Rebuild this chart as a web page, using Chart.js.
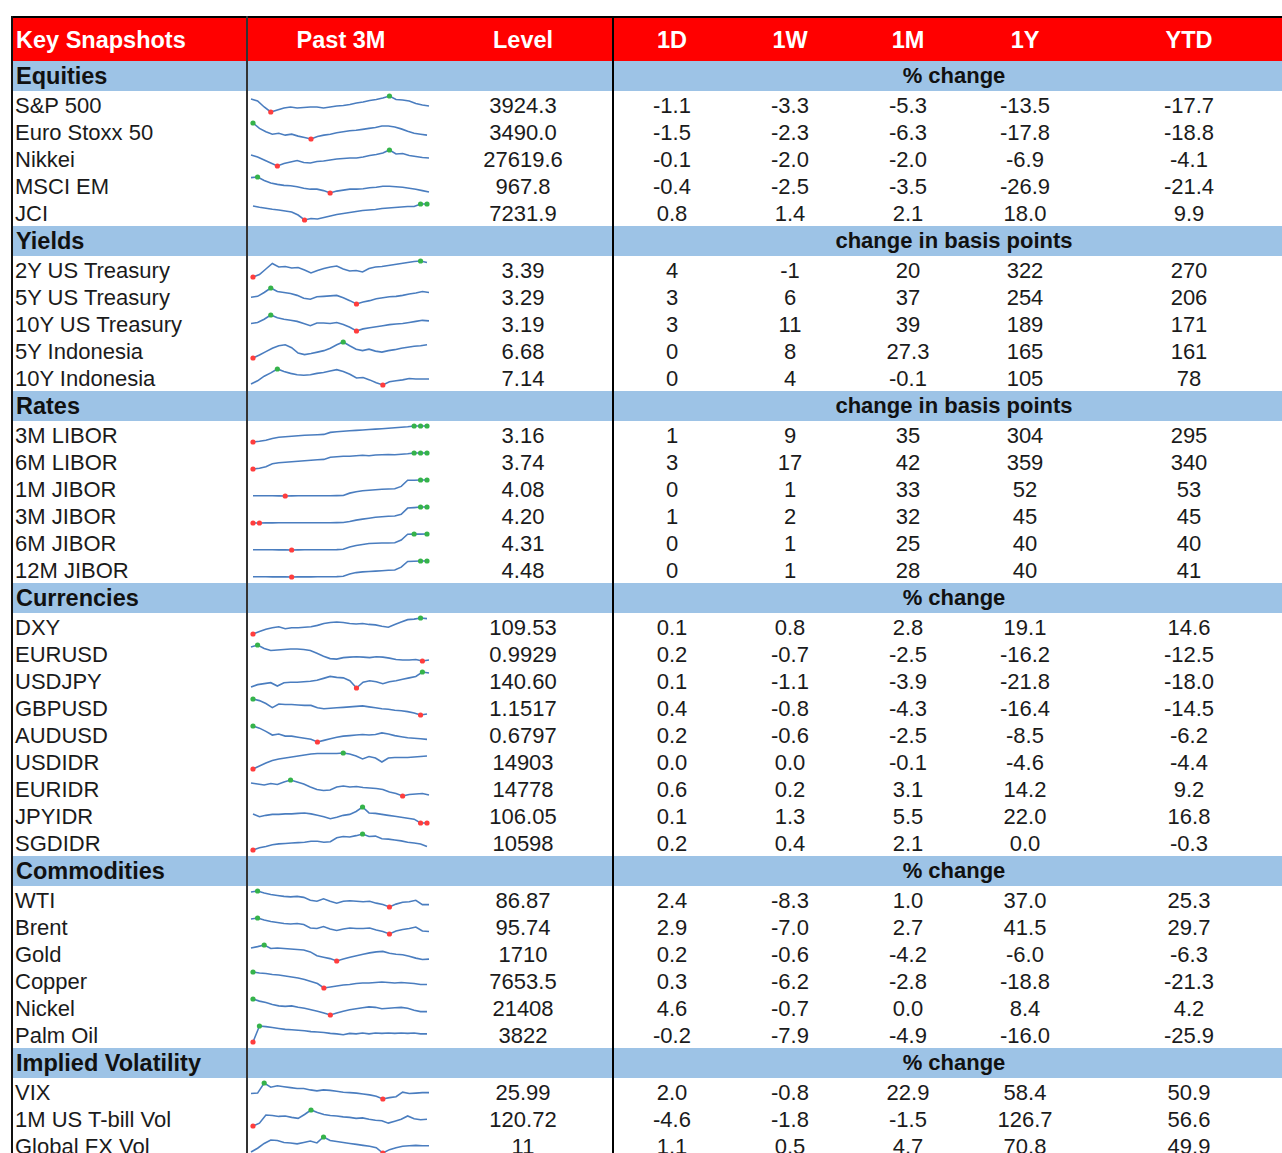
<!DOCTYPE html>
<html lang="en">
<head>
<meta charset="UTF-8">
<title>Key Snapshots</title>
<script src="https://cdn.jsdelivr.net/npm/chart.js"></script>
<style>
  html, body { margin: 0; padding: 0; background: #fff; }
  #sheet { position: relative; width: 1282px; height: 1153px; overflow: hidden;
           font-family: "Liberation Sans", Arial, sans-serif; color: #1b1b1b; }
  .band { position: absolute; left: 11px; width: 1271px; }
  .hdr { background: #ff0000; }
  .sec { background: #9dc3e6; }
  .txt { position: absolute; white-space: nowrap; font-size: 22px; }
  .c { transform: translateX(-50%); }
  .white { color: #fff; font-weight: bold; font-size: 23.5px; }
  .bold { font-weight: bold; color: #111; }
  .line { position: absolute; }
  canvas.spark { position: absolute; }
</style>
</head>
<body>
<div id="sheet"></div>

<script>
// ---- data ----
const headerCols = ['Key Snapshots', 'Past 3M', 'Level', '1D', '1W', '1M', '1Y', 'YTD'];

const sectionNames = ['Equities', 'Yields', 'Rates', 'Currencies', 'Commodities', 'Implied Volatility'];
const sectionUnits = ['% change', 'change in basis points', 'change in basis points', '% change', '% change', '% change'];
const sectionSizes = [5, 5, 6, 9, 6, 3];

const labels = ['S&P 500', 'Euro Stoxx 50', 'Nikkei', 'MSCI EM', 'JCI',
  '2Y US Treasury', '5Y US Treasury', '10Y US Treasury', '5Y Indonesia', '10Y Indonesia',
  '3M LIBOR', '6M LIBOR', '1M JIBOR', '3M JIBOR', '6M JIBOR', '12M JIBOR',
  'DXY', 'EURUSD', 'USDJPY', 'GBPUSD', 'AUDUSD', 'USDIDR', 'EURIDR', 'JPYIDR', 'SGDIDR',
  'WTI', 'Brent', 'Gold', 'Copper', 'Nickel', 'Palm Oil',
  'VIX', '1M US T-bill Vol', 'Global FX Vol'];

const levels = ['3924.3', '3490.0', '27619.6', '967.8', '7231.9',
  '3.39', '3.29', '3.19', '6.68', '7.14',
  '3.16', '3.74', '4.08', '4.20', '4.31', '4.48',
  '109.53', '0.9929', '140.60', '1.1517', '0.6797', '14903', '14778', '106.05', '10598',
  '86.87', '95.74', '1710', '7653.5', '21408', '3822',
  '25.99', '120.72', '11'];

const chg1D = ['-1.1', '-1.5', '-0.1', '-0.4', '0.8',
  '4', '3', '3', '0', '0',
  '1', '3', '0', '1', '0', '0',
  '0.1', '0.2', '0.1', '0.4', '0.2', '0.0', '0.6', '0.1', '0.2',
  '2.4', '2.9', '0.2', '0.3', '4.6', '-0.2',
  '2.0', '-4.6', '1.1'];

const chg1W = ['-3.3', '-2.3', '-2.0', '-2.5', '1.4',
  '-1', '6', '11', '8', '4',
  '9', '17', '1', '2', '1', '1',
  '0.8', '-0.7', '-1.1', '-0.8', '-0.6', '0.0', '0.2', '1.3', '0.4',
  '-8.3', '-7.0', '-0.6', '-6.2', '-0.7', '-7.9',
  '-0.8', '-1.8', '0.5'];

const chg1M = ['-5.3', '-6.3', '-2.0', '-3.5', '2.1',
  '20', '37', '39', '27.3', '-0.1',
  '35', '42', '33', '32', '25', '28',
  '2.8', '-2.5', '-3.9', '-4.3', '-2.5', '-0.1', '3.1', '5.5', '2.1',
  '1.0', '2.7', '-4.2', '-2.8', '0.0', '-4.9',
  '22.9', '-1.5', '4.7'];

const chg1Y = ['-13.5', '-17.8', '-6.9', '-26.9', '18.0',
  '322', '254', '189', '165', '105',
  '304', '359', '52', '45', '40', '40',
  '19.1', '-16.2', '-21.8', '-16.4', '-8.5', '-4.6', '14.2', '22.0', '0.0',
  '37.0', '41.5', '-6.0', '-18.8', '8.4', '-16.0',
  '58.4', '126.7', '70.8'];

const chgYTD = ['-17.7', '-18.8', '-4.1', '-21.4', '9.9',
  '270', '206', '171', '161', '78',
  '295', '340', '53', '45', '40', '41',
  '14.6', '-12.5', '-18.0', '-14.5', '-6.2', '-4.4', '9.2', '16.8', '-0.3',
  '25.3', '29.7', '-6.3', '-21.3', '4.2', '-25.9',
  '50.9', '56.6', '49.9'];

// past 3M sparklines (relative heights)
const sparkSeries = [
  [13,11,5,0,2,4,5,4,4.5,5,5,4,5,6,6.5,7.5,9,10,11.5,12.5,14,16,12.5,12,11,8.5,7,6],
  [16.6,11,7.5,5,6,4,5,3,1.5,0,2.5,4,5,6.5,7.5,8.5,9,10,11,12,13.5,13.5,12.5,10.5,8,6,5,4],
  [11,9,6,3,0,2.5,4,5.5,3.5,3,4.5,5,6,7,7.5,8,8,9,10.5,11.5,13,16,12,12.5,10.5,9.5,8.5,8],
  [16,16.7,13,10.5,9,8,7.5,6.5,5,4,4,2.5,0,2,3,4,4,4.5,5.5,6,7,7,6.5,6,5,4,2.5,1],
  [14,12.7,11.7,10.7,10,9,8,5,0,1.5,1,2.5,4,5.5,6.5,7.5,8.5,9.5,10,10.5,11.5,12,12.5,13,13.5,13.5,16,16],
  [0,2.5,8,13.5,10,10.5,9,9.5,7,4,6.5,8.5,10,11,8,6,6.5,5,8.5,10,10.5,11.5,12.5,13.5,14.5,15.5,16,14.5],
  [7,8,12,16.7,13,12,11,9,6,5,7.5,8,8.5,9,6.5,3.5,0,2,3.5,5.5,6.5,7.5,8,9,10.5,11.5,13,12],
  [7,8,11,15,12.5,11,10,9,7,5,7.5,7.5,7,8,6,3.5,0,2,3,4,5,6,6.5,7,8,9,10,9.5],
  [0,3,6.5,10,12.5,13.5,10.5,5,3.5,4.5,6,7.5,10,13.5,16.3,12.5,9,7.5,9,7,6,7.5,8.5,10,11,12,12.5,13.5],
  [1,4.5,9.5,13,17.2,14.5,12.5,11,10.5,11,12.5,13.5,15,16.5,14.5,11.5,7.5,8,5.5,2.5,0,3.5,4.5,5.5,7,6.5,6.5,6.5],
  [0,0.7,1.7,3.5,4.8,5.2,5.7,6.2,6.7,7,7.3,7.6,9.6,10.2,10.7,11.2,11.6,12,12.5,12.9,13.3,13.8,14.2,14.7,15.2,16,16,16],
  [0,0.8,2.3,5.3,6.3,6.8,7.3,7.8,8.3,8.8,9.3,9.6,11.8,12.3,12.8,12.8,13.3,13.8,13.3,14,14.3,14.5,14.3,14.8,15.3,16,16,16],
  [0.3,0.3,0.3,0.2,0.1,0,0.1,0.2,0.2,0.2,0.2,0.3,0.3,0.4,0.6,3,4.5,5.5,6,6.5,7,7.3,7.6,10,16.4,16.5,16.7,16.7],
  [0,0,0.1,0.1,0.2,0.2,0.2,0.2,0.2,0.3,0.3,0.3,0.3,0.4,0.5,1.5,3,4,5,6,6.5,7,7.3,9,15.5,16,16.6,16.6],
  [0.3,0.3,0.2,0.2,0.1,0.1,0,0.1,0.2,0.2,0.2,0.2,0.3,0.4,0.8,3,4.5,5.5,6.5,6.8,7,7,7.2,10,15.8,16,15.9,16],
  [0.2,0.2,0.2,0.1,0.1,0.1,0,0.1,0.1,0.1,0.2,0.2,0.3,0.4,0.8,3,4.5,5.2,5.6,6,6.4,6.8,7.2,10,15.8,16,16.3,16.3],
  [0,2.5,5,6.5,7.5,5.5,6.5,6.5,7,7.5,9,11,12,12.5,12,11,10.5,11,10,9.5,8,7,10,12.5,15,15.5,16.7,16],
  [14.5,16.7,13,11,11.5,12,12.5,12.5,12,11,8,5,2.5,2,3.5,4,4.5,4,3.5,4.5,4,3,1.5,1,1,1.5,0,1],
  [1,3.5,4.5,5.5,2,5.5,6,6,6.5,7,8,10,12,11,10.5,7.5,0,6,7.5,6.5,4.5,6.5,7.5,9,10.5,12,16.6,15.5],
  [16.7,15,12,7.7,11.5,11,11,10.5,10,10,7.5,6.5,7,7.5,8,8.5,9,9.5,8.5,7.5,6.5,6,5,4.5,3.5,2,0,1],
  [15,13,10,6.5,7.5,5.5,5.5,4.5,3.5,2.5,0,1.5,3,4.5,5.5,6,6.5,7,6.5,7,8.5,7.5,6,5,4,3.5,3,2.5],
  [0,3,6,8.5,10,11,12,13,14,15,15.5,15.5,15.5,15.5,16,15,13,10,12.5,11,7,11,11.5,11.5,11.5,12,12.5,13],
  [13,12,11,12.5,11.5,14,16,14,12,9,6.5,5.5,6,9,10,9,9.5,8.5,8,7.5,6.5,4,2.5,0,1.5,2,2.5,1],
  [9.5,6.5,8,9,9,9.5,9.5,10,10.5,9.5,8,6.5,4.5,6,8,9,12,16.7,10.5,10,9,8,7,6,5,4,0,0],
  [0,2.5,4,6,7,7.5,8,8.5,9,10,10,9,9.5,14,15.5,15,16.5,18.4,15.5,16,13,12.5,11.5,10.5,9,8,7,4],
  [15.5,16.6,14.5,13,12,11,10.5,11,10,7,6,8.5,6,4,6,6.5,6,5.5,6,4,2.5,0,3,5,5.5,7,2.5,2.5],
  [15,16,14,12.5,11.5,10.5,10,10.5,9.5,6,5.5,7.5,5,3.5,5,6,5.5,5.5,6,4,2.5,0,3,4.5,5.5,7,3,2.5],
  [13.5,15,16.7,13,13.5,13,12.5,12,11.5,9.5,5.5,4,2.5,0,2,4,5.5,7,8.5,9.5,10,8,7,6.5,5,3,1.5,2],
  [16,15,14.5,13.5,13,12,11,10,8.5,6.5,4.5,0,1,2,3,3.5,4.5,5,5,5.5,6,5.5,5,5.5,5,4.5,3.5,3.5],
  [16.7,14.5,13,11,9.5,9,9.5,8,7,5.5,4,2,0,2,4,5.5,6.5,7.5,8.5,8,6.5,7,7.5,8,7,5,3.5,3.5],
  [0,17.7,17,16,15,14,13.5,13,12.5,11.5,11,10.5,9.5,9,8,9.5,9,10,9,10,9.5,10,9.5,10,9.5,10,9,9],
  [6,6.5,17.6,13,14.5,13.5,12.5,11.5,11.5,10,9,10,9.5,8.5,7.5,7,6.5,5.5,4.5,3,0,1.5,2.5,7.5,6,6.5,7,7],
  [0,3,11.5,11,10,10.5,9,8,12,16.7,14,12,11,10.5,9.5,9,8,8.5,7,6,5.5,3,5,7,10.5,7.5,6.5,7],
  [1,5,10,13.5,13,11,10.5,9.5,11,12.5,10.5,16.7,13,12,11,10,9,8,7,5.5,0,3.5,5.5,7,7.5,8,7.5,7.5]
];

// ---- layout ----
const sheet = document.getElementById('sheet');
const HDR_TOP = 17, HDR_H = 44, SEC_H = 30, ROW_H = 27;
const headerX = [16, 341, 523, 672, 790, 908, 1025, 1189];
const valueX = [523, 672, 790, 908, 1025, 1189];

function addDiv(cls, css, text) {
    const d = document.createElement('div');
    d.className = cls;
    Object.assign(d.style, css);
    if (text !== undefined) d.textContent = text;
    sheet.appendChild(d);
    return d;
}

function addText(text, x, top, h, cls, centered, dy) {
    addDiv('txt ' + cls + (centered ? ' c' : ''), {
        left: x + 'px', top: (top + (dy || 0)) + 'px',
        height: h + 'px', lineHeight: h + 'px'
    }, text);
}

function drawSpark(top, values) {
    const cv = document.createElement('canvas');
    cv.className = 'spark';
    cv.width = 182;
    cv.height = 27;
    cv.style.left = '249px';
    cv.style.top = top + 'px';
    sheet.appendChild(cv);

    const lo = Math.min(...values);
    const hi = Math.max(...values);
    new Chart(cv, {
        type: 'line',
        data: {
            labels: values.map((_, i) => i),
            datasets: [{
                data: values,
                borderColor: '#4a7dbf',
                borderWidth: 1.6,
                tension: 0,
                clip: false,
                pointRadius: ctx => (values[ctx.dataIndex] === lo || values[ctx.dataIndex] === hi) ? 2.6 : 0,
                pointBackgroundColor: ctx => values[ctx.dataIndex] === lo ? '#ff3d3d' : '#35b34a',
                pointBorderWidth: 0
            }]
        },
        options: {
            responsive: false,
            animation: false,
            events: [],
            layout: { padding: { left: 2, right: 2, top: 5, bottom: 6 } },
            plugins: { legend: { display: false }, tooltip: { enabled: false } },
            scales: {
                x: { display: false },
                y: { display: false, min: lo, max: hi }
            }
        }
    });
}

// header
addDiv('band hdr', { top: HDR_TOP + 'px', height: HDR_H + 'px' });
headerCols.forEach((h, i) => addText(h, headerX[i], HDR_TOP, HDR_H, 'white', i > 0, 1));

// sections and rows
let y = HDR_TOP + HDR_H;
let r = 0;
sectionNames.forEach((name, s) => {
    addDiv('band sec', { top: y + 'px', height: SEC_H + 'px' });
    addText(name, 16, y, SEC_H, 'bold', false, 0);
    sheet.lastChild.style.fontSize = '23.5px';
    addText(sectionUnits[s], 954, y, SEC_H, 'bold', true, 0);
    y += SEC_H;

    for (let k = 0; k < sectionSizes[s]; k++) {
        addText(labels[r], 15, y, ROW_H, '', false, 1);
        const cols = [levels[r], chg1D[r], chg1W[r], chg1M[r], chg1Y[r], chgYTD[r]];
        cols.forEach((v, j) => addText(v, valueX[j], y, ROW_H, '', true, 1));
        drawSpark(y, sparkSeries[r]);
        y += ROW_H;
        r++;
    }
});

// borders
addDiv('line', { left: '11px', top: '16px', width: '1271px', height: '2px', background: '#000' });
addDiv('line', { left: '11px', top: '16px', width: '2px', height: '1137px', background: '#111' });
addDiv('line', { left: '246px', top: '16px', width: '2px', height: '1137px', background: '#333' });
addDiv('line', { left: '612px', top: '16px', width: '2px', height: '1137px', background: '#000' });
</script>
</body>
</html>
